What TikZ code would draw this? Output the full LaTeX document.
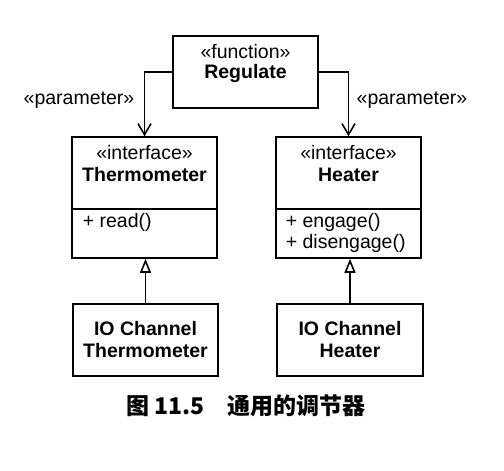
\documentclass[tikz,border=0pt]{standalone}
\usepackage{fontspec}
\setmainfont{Liberation Sans}
\newfontfamily\cjk{Noto Sans CJK SC}
\usetikzlibrary{arrows.meta}
\begin{document}
\begin{tikzpicture}[x=1pt,y=-1pt,
  font=\fontsize{19.5}{22}\selectfont,
  line width=1.6pt,
  box/.style={draw, line width=1.6pt, inner sep=0pt},
  txt/.style={inner sep=0pt, anchor=center},
  mtxt/.style={inner sep=0pt, anchor=west},
  param/.style={-{Straight Barb[length=11pt,width=13pt,line width=1.6pt]}},
  gen/.style={-{Triangle[open,length=14pt,width=11pt,line width=1.6pt]}}]
\useasboundingbox (0,0) rectangle (504,471);
% boxes
\node[box, minimum width=145pt, minimum height=72pt] (reg) at (245.5,72) {};
\node[box, minimum width=145pt, minimum height=121pt] (therm) at (144.5,197.5) {};
\node[box, minimum width=145pt, minimum height=121pt] (heat) at (348.5,197.5) {};
\node[box, minimum width=145pt, minimum height=72pt] (ioth) at (145.5,340) {};
\node[box, minimum width=146pt, minimum height=72pt] (iohe) at (350,340) {};
% dividers
\draw (therm.west |- 0,209) -- (therm.east |- 0,209);
\draw (heat.west |- 0,209) -- (heat.east |- 0,209);
% texts
\node[txt] (regs) at (245.5,52) {«function»};
\node[txt] (regn) at (245.5,74) {\textbf{Regulate}};
\node[txt] (ths) at (144.5,153) {«interface»};
\node[txt] (thn) at (144.5,175) {\textbf{Thermometer}};
\node[mtxt] (thm) at (82,222) {+ read()};
\node[txt] (hes) at (348.5,153) {«interface»};
\node[txt] (hen) at (348.5,175) {\textbf{Heater}};
\node[mtxt] (hem1) at (285,222) {+ engage()};
\node[mtxt] (hem2) at (285,243) {+ disengage()};
\node[txt, align=center] (iotht) at (145.5,340) {\textbf{IO Channel}\\\textbf{Thermometer}};
\node[txt, align=center] (iohet) at (350,340) {\textbf{IO Channel}\\\textbf{Heater}};
\node[txt] (lp) at (79,100) {«parameter»};
\node[txt] (rp) at (412,100) {«parameter»};
% connectors
\draw[param] (reg.west) -| (therm.north);
\draw[param] (reg.east) -| (heat.north);
\draw[gen] (ioth.north) -- (ioth.north |- therm.south);
\draw[gen] (iohe.north) -- (iohe.north |- heat.south);
% caption
\node[txt] (cap) at (246,406) {\fontsize{23}{26}\selectfont\cjk\bfseries 图 11.5\hspace{1em}通用的调节器};
\end{tikzpicture}
\end{document}
